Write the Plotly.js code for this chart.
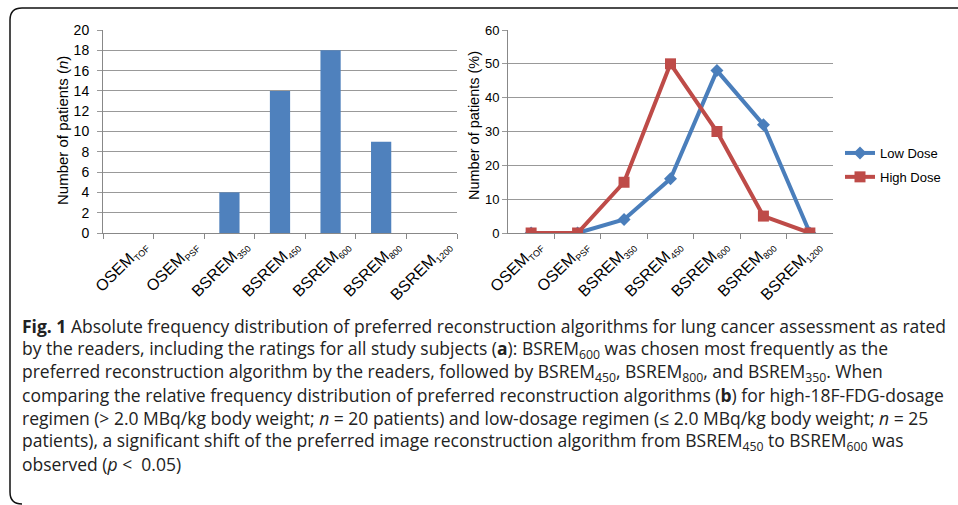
<!DOCTYPE html>
<html><head><meta charset="utf-8">
<script src="https://cdn.plot.ly/plotly-3.0.1.min.js"></script>
<style>html,body{margin:0;padding:0;background:#fff}#chart{width:958px;height:505px}</style>
</head><body><div id="chart"></div>
<script>
var S = function(t){return '<sub><span style="font-size:9px">'+t+'</span></sub>';};
var categories = ['OSEM'+S('TOF'),'OSEM'+S('PSF'),'BSREM'+S('350'),'BSREM'+S('450'),'BSREM'+S('600'),'BSREM'+S('800'),'BSREM'+S('1200')];
var allPatients = [0, 0, 4, 14, 18, 9, 0];
var lowDose = [0, 0, 4, 16, 48, 32, 0];
var highDose = [0, 0, 15, 50, 30, 5, 0];
var leftTicks = [0,2,4,6,8,10,12,14,16,18,20];
var rightTicks = [0,10,20,30,40,50,60];
var captionLines = [
 '<b>Fig. 1</b> Absolute frequency distribution of preferred reconstruction algorithms for lung cancer assessment as rated',
 'by the readers, including the ratings for all study subjects (<b>a</b>): BSREM<sub>600</sub> was chosen most frequently as the',
 'preferred reconstruction algorithm by the readers, followed by BSREM<sub>450</sub>, BSREM<sub>800</sub>, and BSREM<sub>350</sub>. When',
 'comparing the relative frequency distribution of preferred reconstruction algorithms (<b>b</b>) for high-18F-FDG-dosage',
 'regimen (&gt; 2.0 MBq/kg body weight; <i>n</i> = 20 patients) and low-dosage regimen (≤ 2.0 MBq/kg body weight; <i>n</i> = 25',
 'patients), a significant shift of the preferred image reconstruction algorithm from BSREM<sub>450</sub> to BSREM<sub>600</sub> was',
 'observed (<i>p</i> &lt;  0.05)'
];

var W = 958, H = 505;
function px(x){return x/W;}
function py(y){return 1 - y/H;}

var traces = [
 {type:'bar', x:categories, y:allPatients, xaxis:'x', yaxis:'y', marker:{color:'#4F81BD'}, showlegend:false, hoverinfo:'none'},
 {type:'scatter', mode:'lines+markers', name:'Low Dose', legendgroup:'a', x:categories, y:lowDose, xaxis:'x2', yaxis:'y2',
  line:{color:'#4A7EBB', width:4}, marker:{symbol:'diamond', size:10, color:'#4A7EBB'}},
 {type:'scatter', mode:'lines+markers', name:'High Dose', legendgroup:'b', x:categories, y:highDose, xaxis:'x2', yaxis:'y2',
  line:{color:'#BE4B48', width:4}, marker:{symbol:'square', size:11, color:'#BE4B48'}}
];

var axX = {type:'category', tickangle:-45, tickfont:{family:'Liberation Sans, Arial, sans-serif', size:16, color:'#000'},
  ticklabelstandoff:-4,
  showgrid:false, showline:true, linecolor:'#888', linewidth:1, ticks:'outside', tickson:'boundaries', ticklen:5, tickcolor:'#888', fixedrange:true};
var axYbase = {showgrid:true, gridcolor:'#999', gridwidth:1, showline:true, linecolor:'#888', ticks:'outside', ticklen:5, tickcolor:'#999',
  zeroline:false, fixedrange:true};

var yTop = 30, yBot = 233;
var annotations = [
 {xref:'paper', yref:'paper', x:px(62), y:py(130), xanchor:'center', yanchor:'middle', text:'Number of patients (<i>n</i>)', textangle:-90, showarrow:false,
  font:{family:'Liberation Sans, Arial, sans-serif', size:15, color:'#000'}},
 {xref:'paper', yref:'paper', x:px(474), y:py(126), xanchor:'center', yanchor:'middle', text:'Number of patients (%)', textangle:-90, showarrow:false,
  font:{family:'Liberation Sans, Arial, sans-serif', size:14.5, color:'#000'}}
];
captionLines.forEach(function(t,i){
  annotations.push({xref:'paper', yref:'paper', x:px(20), y:py(326 + i*23), xanchor:'left', yanchor:'middle', align:'left',
   text:t, showarrow:false, font:{family:'Open Sans, sans-serif', size:17.5, color:'#222'}});
});

var layout = {
  width:W, height:H, margin:{l:0,r:0,t:0,b:0}, paper_bgcolor:'#fff', plot_bgcolor:'rgba(0,0,0,0)',
  bargap:0.6, showlegend:true,
  legend:{x:px(840), y:py(138), xanchor:'left', yanchor:'top', font:{family:'Liberation Sans, Arial, sans-serif', size:13, color:'#000'},
    traceorder:'grouped', tracegroupgap:4, bgcolor:'rgba(0,0,0,0)'},
  xaxis: Object.assign({}, axX, {domain:[px(103), px(457)], anchor:'y', ticklabelshift:14}),
  yaxis: Object.assign({}, axYbase, {domain:[py(yBot), py(yTop)], range:[0,20], tickvals:leftTicks, anchor:'x', ticklabelstandoff:5,
    tickfont:{family:'Liberation Sans, Arial, sans-serif', size:14, color:'#000'}}),
  xaxis2: Object.assign({}, axX, {domain:[px(508), px(833)], anchor:'y2', ticklabelshift:6}),
  yaxis2: Object.assign({}, axYbase, {domain:[py(yBot), py(yTop)], range:[0,60], tickvals:rightTicks, anchor:'x2', ticklabelstandoff:0,
    tickfont:{family:'Liberation Sans, Arial, sans-serif', size:13, color:'#000'}}),
  annotations: annotations,
  shapes:[
   {type:'path', xref:'paper', yref:'paper', layer:'above',
    path:'M '+px(958)+','+py(8)+' L '+px(22)+','+py(8)+' Q '+px(10)+','+py(8)+' '+px(10)+','+py(20)+' L '+px(10)+','+py(492)+' Q '+px(10)+','+py(504)+' '+px(22)+','+py(504),
    line:{color:'#111', width:1.5}}
  ]
};
Plotly.newPlot('chart', traces, layout, {displayModeBar:false, staticPlot:true});
</script></body></html>
